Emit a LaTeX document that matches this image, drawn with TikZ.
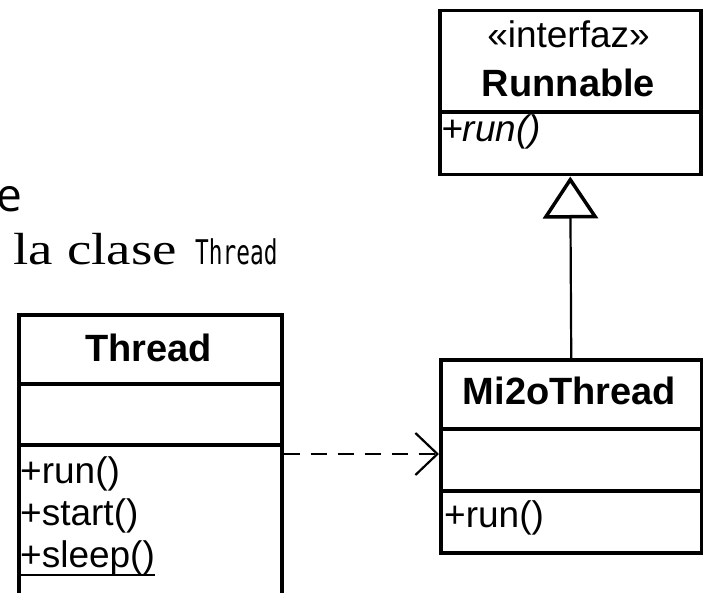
\documentclass[tikz,border=0pt]{standalone}
\usepackage{fontspec}
\setmainfont{Liberation Sans}
\newfontfamily\headf{Open Sans}
\newfontfamily\serf[FakeStretch=1.22]{Liberation Serif}
\newfontfamily\monof[FakeStretch=0.67]{DejaVu Sans Mono}
\usetikzlibrary{arrows.meta}
\tikzset{
  umlbox/.style={draw, line width=3.5pt, minimum width=261pt, inner sep=0pt, anchor=north west},
  sepline/.style={line width=3.5pt},
  umltxt/.style={inner sep=0pt, font=\fontsize{37}{42}\selectfont},
  umltitle/.style={umltxt, anchor=base, font=\fontsize{38}{42}\selectfont\bfseries},
  umlitem/.style={umltxt, anchor=base west},
  realize/.style={line width=2.2pt, dash pattern=on 16pt off 11pt,
    -{Straight Barb[length=22pt, width=42pt, line width=2.2pt]}},
  inherit/.style={line width=2.2pt,
    -{Triangle[open, length=42pt, width=55pt, line width=3.5pt, fill=white]}}
}
\begin{document}
\begin{tikzpicture}[x=1pt,y=-1pt]
\useasboundingbox (0,0) rectangle (703,593);
% cut-off slide text
\node[inner sep=0pt, anchor=base west, font=\headf\fontsize{46}{52}\selectfont] (head) at (-4,212) {e};
\node[inner sep=0pt, anchor=base east, font=\serf\fontsize{45}{50}\selectfont] (sub) at (177,265) {e la clase};
\node[inner sep=0pt, anchor=base west, font=\monof\fontsize{34}{38}\selectfont] (subm) at (195,265) {Thread};
% Runnable
\node[umlbox, minimum height=164pt] (runnable) at (438,9) {};
\coordinate (rsep) at (0,112);
\draw[sepline] (runnable.west |- rsep) -- (runnable.east |- rsep);
\node[umltxt, anchor=base] (rstereo) at (568.5,48) {«interfaz»};
\node[umltitle] (rname) at (568.5,97) {Runnable};
\node[umlitem, font=\fontsize{37}{42}\selectfont\itshape] (rrun) at (441,142) {+run()};
% Mi2oThread
\node[umlbox, minimum height=193pt] (mi2o) at (439,358) {};
\coordinate (msep1) at (0,429);
\coordinate (msep2) at (0,491);
\draw[sepline] (mi2o.west |- msep1) -- (mi2o.east |- msep1);
\draw[sepline] (mi2o.west |- msep2) -- (mi2o.east |- msep2);
\node[umltitle] (mname) at (569.5,404) {Mi2oThread};
\node[umlitem] (mrun) at (444,527) {+run()};
% Thread
\node[umlbox, minimum width=263pt, minimum height=320pt] (thread) at (17,313) {};
\coordinate (tsep1) at (0,384);
\coordinate (tsep2) at (0,445);
\draw[sepline] (thread.west |- tsep1) -- (thread.east |- tsep1);
\draw[sepline] (thread.west |- tsep2) -- (thread.east |- tsep2);
\node[umltitle] (tname) at (148.5,361) {Thread};
\node[umlitem] (trun) at (20,483) {+run()};
\node[umlitem] (tstart) at (20,525) {+start()};
\node[umlitem] (tsleep) at (20,567) {+sleep()};
\draw[line width=2.5pt] ([yshift=-8pt]tsleep.base west) -- ([yshift=-8pt]tsleep.base east);
% connectors
\coordinate (arrowy) at (0,454);
\draw[realize] (thread.east |- arrowy) -- (mi2o.west |- arrowy);
\draw[inherit] (mi2o.north) -- (runnable.south);
\end{tikzpicture}
\end{document}
